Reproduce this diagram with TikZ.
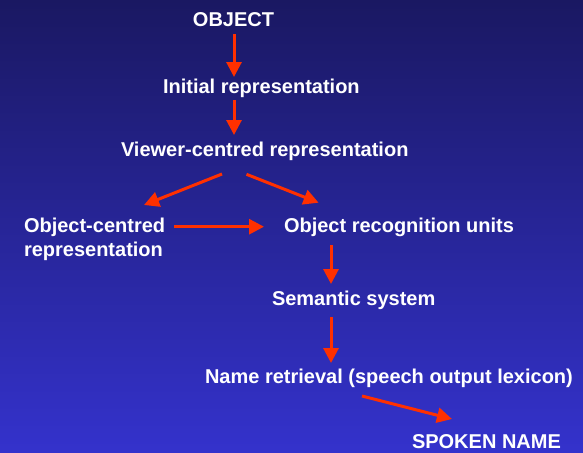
\documentclass[tikz,border=0pt]{standalone}
\usepackage{fontspec}
\setmainfont{Liberation Sans}
\usetikzlibrary{arrows.meta}
\definecolor{bgtop}{RGB}{26,24,98}
\definecolor{bgbot}{RGB}{52,50,204}
\definecolor{arr}{RGB}{255,48,0}
\tikzset{
  lbl/.style={inner sep=0pt, outer sep=0pt, text=white, font=\fontsize{20}{23.5}\selectfont\bfseries},
  flow/.style={draw=arr, line width=3pt, -{Triangle[width=15pt,length=15pt]}}
}
\begin{document}
\begin{tikzpicture}[x=1pt,y=-1pt]
\shade[top color=bgtop, bottom color=bgbot] (0,0) rectangle (583,452);
\useasboundingbox (0,0) rectangle (583,452);

\node[lbl, anchor=base] (obj) at (233.5,26.5) {OBJECT};
\node[lbl, anchor=base west] (init) at (163,93) {Initial representation};
\node[lbl, anchor=base west] (view) at (121,156) {Viewer-centred representation};
\node[lbl, anchor=base west, align=left] (objc) at (24,256.2) {Object-centred\\representation};
\node[lbl, anchor=base west] (oru) at (284,232.7) {Object recognition units};
\node[lbl, anchor=base west] (sem) at (272,305) {Semantic system};
\node[lbl, anchor=base west] (name) at (205,383) {Name retrieval (speech output lexicon)};
\node[lbl, anchor=base west] (spoken) at (412,448.5) {SPOKEN NAME};

\coordinate (a1s) at (234,34);   \coordinate (a1e) at (234,77);
\coordinate (a2s) at (234,100);  \coordinate (a2e) at (234,135);
\coordinate (a3s) at (222,174);  \coordinate (a3e) at (144,205);
\coordinate (a4s) at (246.5,174.3); \coordinate (a4e) at (318.6,202.7);
\coordinate (a5s) at (174,226.7); \coordinate (a5e) at (264,226.7);
\coordinate (a6s) at (331,245);  \coordinate (a6e) at (331,284);
\coordinate (a7s) at (331,317);  \coordinate (a7e) at (331,363);
\coordinate (a8s) at (362,396);  \coordinate (a8e) at (452,419);

\draw[flow] (a1s) -- (a1e);
\draw[flow] (a2s) -- (a2e);
\draw[flow] (a3s) -- (a3e);
\draw[flow] (a4s) -- (a4e);
\draw[flow] (a5s) -- (a5e);
\draw[flow] (a6s) -- (a6e);
\draw[flow] (a7s) -- (a7e);
\draw[flow] (a8s) -- (a8e);
\end{tikzpicture}
\end{document}
